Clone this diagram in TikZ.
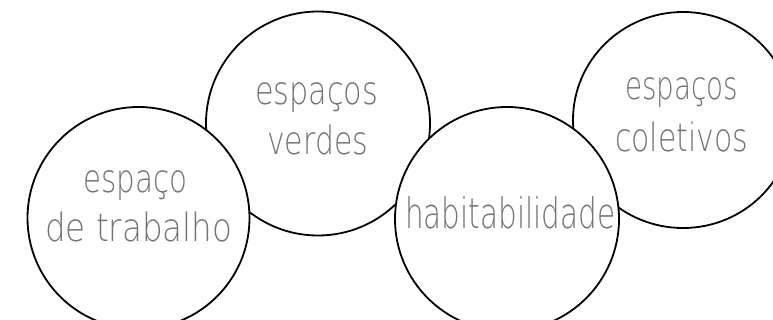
\documentclass[tikz,border=0pt]{standalone}
\usepackage{fontspec}
\usepackage{graphicx}
\setmainfont{DejaVu Sans ExtraLight}
\usetikzlibrary{shapes.geometric}
\definecolor{txtgray}{RGB}{115,115,115}
\newcommand{\fitw}[2]{\resizebox{#1}{\height}{#2}}
\tikzset{
  bubble/.style={draw=black, fill=white, line width=1.8pt, inner sep=0pt},
  lbl/.style={anchor=base west, inner sep=0pt, text=txtgray, font=\fontsize{39}{39}\selectfont},
  lblbig/.style={lbl, font=\fontsize{42}{42}\selectfont}
}
\begin{document}
\begin{tikzpicture}[x=1pt, y=-1pt]
\useasboundingbox (0,0) rectangle (773,320);
\clip (0,0) rectangle (773,320);
% espaços verdes
\node[bubble, circle, minimum size=224pt] (verdes) at (318,123.5) {};
\node[lbl] (v1) at (255,105) {\fitw{123pt}{espaços}};
\node[lbl] (v2) at (267,155) {\fitw{101pt}{verdes}};
% espaços coletivos
\node[bubble, ellipse, minimum width=220pt, minimum height=216pt] (coletivos) at (683,120) {};
\node[lbl] (c1) at (625,100) {\fitw{113pt}{espaços}};
\node[lbl] (c2) at (615,152) {\fitw{133pt}{coletivos}};
% espaço de trabalho
\node[bubble, circle, minimum size=222pt] (trabalho) at (138.5,218) {};
\node[lbl] (t1) at (83,193) {\fitw{104pt}{espaço}};
\node[lbl] (t2) at (45,242) {\fitw{187pt}{de trabalho}};
% habitabilidade
\node[bubble, circle, minimum size=224pt] (habit) at (507,219) {};
\node[lblbig] (h1) at (405,229) {\fitw{210pt}{habitabilidade}};
\end{tikzpicture}
\end{document}
